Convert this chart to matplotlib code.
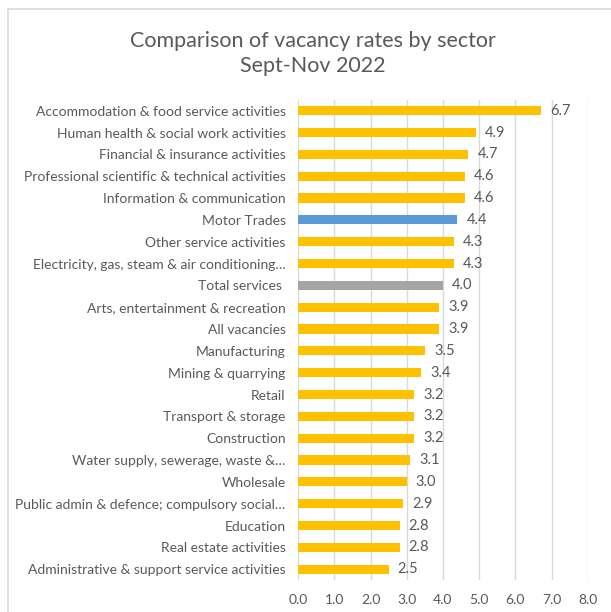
"""Horizontal bar chart of vacancy rates by sector, Sept-Nov 2022"""

import matplotlib.pyplot as plt
from matplotlib.lines import Line2D

sectors = [
    "Accommodation & food service activities",
    "Human health & social work activities",
    "Financial & insurance activities",
    "Professional scientific & technical activities",
    "Information & communication",
    "Motor Trades",
    "Other service activities",
    "Electricity, gas, steam & air conditioning\u2026",
    "Total services ",
    "Arts, entertainment & recreation",
    "All vacancies",
    "Manufacturing",
    "Mining & quarrying",
    "Retail",
    "Transport & storage",
    "Construction",
    "Water supply, sewerage, waste &\u2026",
    "Wholesale",
    "Public admin & defence; compulsory social\u2026",
    "Education",
    "Real estate activities",
    "Administrative & support service activities",
]
rates = [6.7, 4.9, 4.7, 4.6, 4.6, 4.4, 4.3, 4.3, 4.0, 3.9, 3.9, 3.5, 3.4,
         3.2, 3.2, 3.2, 3.1, 3.0, 2.9, 2.8, 2.8, 2.5]
xticks = [0, 1, 2, 3, 4, 5, 6, 7, 8]

GOLD = "#FFC000"
BLUE = "#5B9BD5"
GREY = "#A5A5A5"
TEXT = "#595959"

colors = []
for s in sectors:
    if s == "Motor Trades":
        colors.append(BLUE)
    elif s.strip() == "Total services":
        colors.append(GREY)
    else:
        colors.append(GOLD)

plt.rcParams["font.family"] = ["Lato", "DejaVu Sans"]

fig = plt.figure(figsize=(6.11, 6.12), dpi=100)
ax = fig.add_axes([0.488, 0.052, 0.474, 0.785])

ypos = list(range(len(sectors)))
ax.barh(ypos, rates, height=0.42, color=colors, zorder=3)
for y, v in zip(ypos, rates):
    ax.text(v + 0.25, y, f"{v:.1f}", va="center", ha="left",
            fontsize=10.5, color=TEXT)

ax.set_ylim(len(sectors) - 0.5, -0.5)
ax.set_xlim(0, 8)
ax.set_yticks(ypos)
ax.set_yticklabels(sectors, fontsize=10, color=TEXT)
ax.set_xticks(xticks)
ax.set_xticklabels([f"{t:.1f}" for t in xticks], fontsize=10, color=TEXT)
ax.tick_params(axis="both", length=0)
ax.tick_params(axis="y", pad=9)
ax.tick_params(axis="x", pad=10)
ax.grid(axis="x", color="#D9D9D9", linewidth=1, zorder=0)
for sp in ax.spines.values():
    sp.set_visible(False)

fig.text(0.512, 0.912, "Comparison of vacancy rates by sector\nSept-Nov 2022",
         ha="center", va="center", fontsize=15.5, color=TEXT, linespacing=1.3)

# outer chart border (only top and left visible in the crop)
fig.add_artist(Line2D([8 / 611, 1], [1 - 9 / 612, 1 - 9 / 612],
                      color="#D9D9D9", linewidth=1.2))
fig.add_artist(Line2D([8 / 611, 8 / 611], [0, 1 - 9 / 612],
                      color="#D9D9D9", linewidth=1.2))

plt.savefig("out.png", dpi=100)
